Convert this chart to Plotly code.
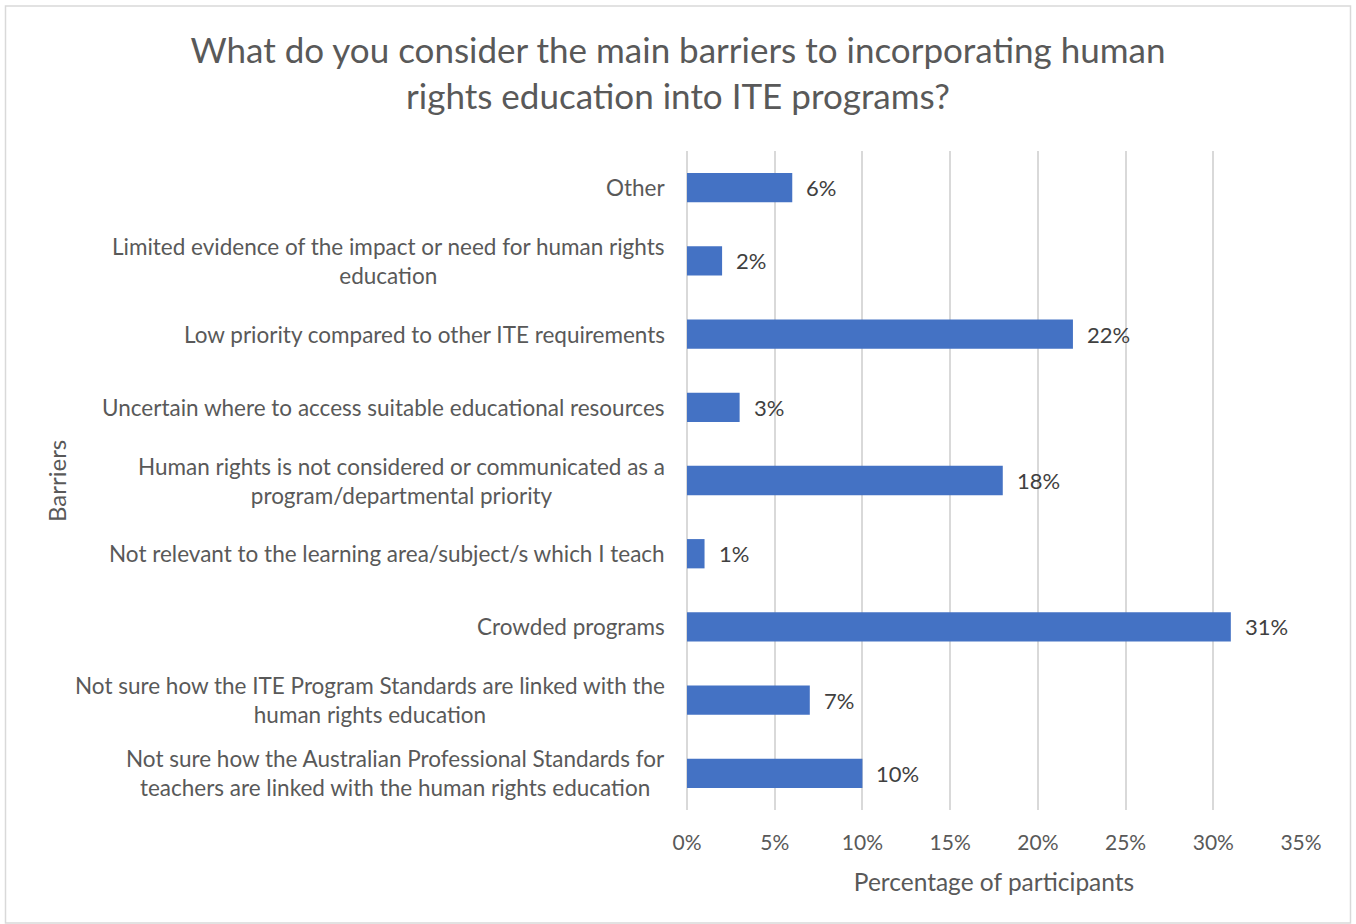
import plotly.graph_objects as go

categories = [
    "Not sure how the Australian Professional Standards for<br>teachers are linked with the human rights education",
    "Not sure how the ITE Program Standards are linked with the<br>human rights education",
    "Crowded programs",
    "Not relevant to the learning area/subject/s which I teach",
    "Human rights is not considered or communicated as a<br>program/departmental priority",
    "Uncertain where to access suitable educational resources",
    "Low priority compared to other ITE requirements",
    "Limited evidence of the impact or need for human rights<br>education",
    "Other",
]
values = [10, 7, 31, 1, 18, 3, 22, 2, 6]

W, H = 1356, 924
ML, MR, MT, MB = 687, 55, 151, 114
FONT = "Lato, 'Open Sans', sans-serif"
GRAY = "#595959"

fig = go.Figure()
fig.add_trace(go.Bar(
    y=list(range(len(categories))), x=values, orientation="h",
    marker=dict(color="#4472C4", line=dict(width=0)),
    hoverinfo="skip",
))

ann = []
for i, (c, v) in enumerate(zip(categories, values)):
    ann.append(dict(x=0, xref="paper", y=i, yref="y", text=c, showarrow=False,
                    xanchor="right", align="center", xshift=-20,
                    font=dict(family=FONT, size=22.5, color=GRAY)))
    ann.append(dict(x=v, xref="x", y=i, yref="y", text=f"{v}%", showarrow=False,
                    xanchor="left", xshift=12,
                    font=dict(family=FONT, size=22, color="#404040")))

pw = W - ML - MR
ph = H - MT - MB
def px(xp):
    return (xp - ML) / pw
def py(yp):
    return 1 - (yp - MT) / ph

fig.update_layout(
    width=W, height=H,
    margin=dict(l=ML, r=MR, t=MT, b=MB),
    paper_bgcolor="white", plot_bgcolor="white",
    bargap=0.6,
    showlegend=False,
    title=dict(text="What do you consider the main barriers to incorporating human<br>rights education into ITE programs?",
               x=0.5, xref="container", xanchor="center",
               y=1 - 63 / H, yref="container", yanchor="middle",
               font=dict(family=FONT, size=35, color=GRAY)),
    xaxis=dict(range=[0, 35], dtick=5, ticksuffix="%", showgrid=True,
               gridcolor="#d9d9d9", gridwidth=1.5, zeroline=True,
               zerolinecolor="#d9d9d9", zerolinewidth=1.5, showline=False,
               ticks="", ticklabelstandoff=18,
               tickfont=dict(family=FONT, size=21, color=GRAY),
               title=dict(text="Percentage of participants", standoff=20,
                          font=dict(family=FONT, size=24.5, color=GRAY))),
    yaxis=dict(range=[-0.5, len(categories) - 0.5], showticklabels=False,
               showgrid=False, zeroline=False, showline=False, ticks=""),
    annotations=ann + [
        dict(x=px(56), xref="paper", y=py(481), yref="paper", text="Barriers",
             textangle=-90, showarrow=False, xanchor="center", yanchor="middle",
             font=dict(family=FONT, size=24, color=GRAY)),
    ],
    shapes=[dict(type="rect", xref="paper", yref="paper",
                 x0=px(5.5), x1=px(1350.5), y0=py(6), y1=py(923),
                 line=dict(color="#d9d9d9", width=1.5), layer="below")],
)

fig.write_html("out.html")
